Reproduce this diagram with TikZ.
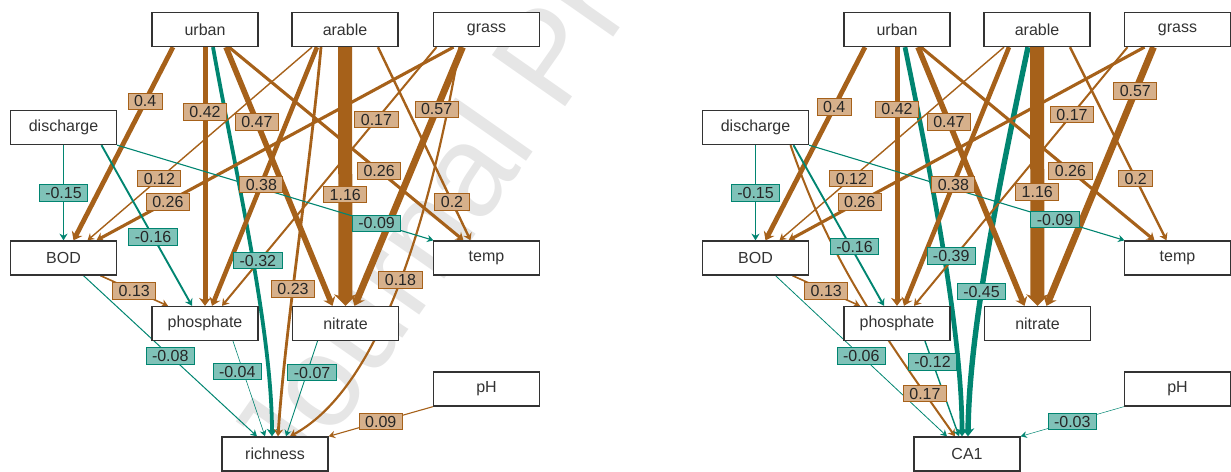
\documentclass[tikz,border=0pt]{standalone}
\usepackage{fontspec}
\setmainfont{Liberation Sans}
\usetikzlibrary{arrows.meta}
\definecolor{brn}{HTML}{A6611A}
\definecolor{tea}{HTML}{018571}
\definecolor{brnl}{HTML}{D6B08B}
\definecolor{teal2}{HTML}{7FC2B8}
\definecolor{wm}{HTML}{E6E6E6}
\pgfdeclarelayer{wmark}
\pgfdeclarelayer{edges}
\pgfsetlayers{wmark,edges,main}
\tikzset{
  box/.style={draw=black!80, line width=1.3pt, fill=white, minimum width=106pt,
    minimum height=34pt, inner sep=0pt, font=\fontsize{16}{18}\selectfont, text=black!80},
  tip/.style={-{Stealth[length=6pt 0.4, width=6pt 1.2]}},
  pe/.style={draw=brn, line width=#1, tip},
  ne/.style={draw=tea, line width=#1, tip},
  lab/.style={line width=0.9pt, inner xsep=6pt, inner ysep=2.5pt, text height=11.5pt,
    text depth=0pt, font=\fontsize{16}{18}\selectfont, text=black!85},
  pl/.style={lab, fill=brnl, draw=brn},
  nl/.style={lab, fill=teal2, draw=tea},
}
\begin{document}
\begin{tikzpicture}[x=1pt,y=-1pt]
\useasboundingbox (0,0) rectangle (1231,471);
\begin{pgfonlayer}{wmark}
\node[rotate=55, anchor=base west, text=wm, font=\fontsize{130}{130}\selectfont] (wmk) at (292,497) {Journal Pre-proof};
\end{pgfonlayer}
% ---------- left panel nodes ----------
\node[box] (urban) at (205,29.5) {urban};
\node[box] (arable) at (345,29.5) {arable};
\node[box] (grass) at (486.5,29.5) {grass};
\node[box] (discharge) at (63.5,127.5) {discharge};
\node[box] (BOD) at (63.5,258) {BOD};
\node[box] (temp) at (486.5,258) {temp};
\node[box] (phosphate) at (205,323.5) {phosphate};
\node[box] (nitrate) at (345.5,323.5) {nitrate};
\node[box] (pH) at (486.5,389) {pH};
\node[box] (richness) at (275,454) {richness};
% ---------- right panel nodes ----------
\node[box] (urban2) at (897,29.5) {urban};
\node[box] (arable2) at (1037,29.5) {arable};
\node[box] (grass2) at (1177.5,29.5) {grass};
\node[box] (discharge2) at (755.5,127.5) {discharge};
\node[box] (BOD2) at (755.5,258) {BOD};
\node[box] (temp2) at (1177.5,258) {temp};
\node[box] (phosphate2) at (897,323.5) {phosphate};
\node[box] (nitrate2) at (1037.5,323.5) {nitrate};
\node[box] (pH2) at (1177.5,389) {pH};
\node[box] (CA1) at (967,454) {CA1};
\begin{pgfonlayer}{edges}
% ---------- left panel edges ----------
\draw[pe=4.8pt] ([xshift=-32pt]urban.south) -- coordinate[pos=.28] (a1) ([xshift=10pt]BOD.north);
\draw[pe=5pt] (urban.south) -- coordinate[pos=.25] (a2) (phosphate.north);
\draw[ne=3.8pt] ([xshift=8pt]urban.south) .. controls (235,170) and (272,330) .. coordinate[pos=.53] (a3) ([xshift=-3pt]richness.north);
\draw[pe=5.6pt] ([xshift=21pt]urban.south) -- coordinate[pos=.29] (a4) ([xshift=-13pt]nitrate.north);
\draw[pe=3.1pt] ([xshift=24pt]urban.south) -- coordinate[pos=.64] (a5) ([xshift=-23pt]temp.north);
\draw[pe=1.4pt] ([xshift=-33pt]arable.south) -- coordinate[pos=.68] (a6) ([xshift=24pt]BOD.north);
\draw[pe=4.6pt] ([xshift=-28pt]arable.south) -- coordinate[pos=.53] (a7) ([xshift=7pt]phosphate.north);
\draw[pe=14pt] (arable.south) -- coordinate[pos=.57] (a8) (nitrate.north);
\draw[pe=2.4pt] ([xshift=33pt]arable.south) -- coordinate[pos=.8] (a9) ([xshift=-16pt]temp.north);
\draw[pe=2.8pt] ([xshift=-24pt]arable.south) .. controls (310,170) and (285,330) .. coordinate[pos=.6] (a10) ([xshift=3pt]richness.north);
\draw[pe=3.1pt] ([xshift=-33pt]grass.south) -- coordinate[pos=.8] (a11) ([xshift=33pt]BOD.north);
\draw[pe=2pt] ([xshift=-50pt]grass.south) -- coordinate[pos=.28] (a12) ([xshift=17pt]phosphate.north);
\draw[pe=6.8pt] ([xshift=-24pt]grass.south) -- coordinate[pos=.24] (a13) ([xshift=9pt]nitrate.north);
\draw[pe=2.2pt] ([xshift=-27pt]grass.south) .. controls (433,200) and (385,385) .. coordinate[pos=.5] (a14) ([xshift=15pt]richness.north);
\draw[ne=1.8pt] (discharge.south) -- coordinate[pos=.5] (a15) (BOD.north);
\draw[ne=1.9pt] ([xshift=38pt]discharge.south) -- coordinate[pos=.57] (a16) ([xshift=-13pt]phosphate.north);
\draw[ne=1.1pt] (discharge.south east) -- coordinate[pos=.82] (a17) ([xshift=-53pt]temp.north);
\draw[pe=1.6pt] ([xshift=37pt]BOD.south) -- coordinate[pos=.5] (a18) ([xshift=-37pt]phosphate.north);
\draw[ne=1pt] ([xshift=20pt]BOD.south) -- coordinate[pos=.5] (a19) ([xshift=-18pt]richness.north);
\draw[ne=0.6pt] ([xshift=28pt]phosphate.south) -- coordinate[pos=.32] (a20) ([xshift=-10pt]richness.north);
\draw[ne=0.9pt] ([xshift=-28pt]nitrate.south) -- coordinate[pos=.33] (a21) ([xshift=11pt]richness.north);
\draw[pe=1.1pt] (pH.south west) -- coordinate[pos=.5] (a22) (richness.north east);
% ---------- right panel edges ----------
\draw[pe=4.8pt] ([xshift=-32pt]urban2.south) -- coordinate[pos=.31] (b1) ([xshift=10pt]BOD2.north);
\draw[pe=5pt] (urban2.south) -- coordinate[pos=.24] (b2) (phosphate2.north);
\draw[ne=4.7pt] ([xshift=8pt]urban2.south) .. controls (930,170) and (962,330) .. coordinate[pos=.52] (b3) ([xshift=-5pt]CA1.north);
\draw[ne=5.4pt] ([xshift=-9pt]arable2.south) .. controls (1000,180) and (969,330) .. coordinate[pos=.6] (b4) ([xshift=1pt]CA1.north);
\draw[pe=5.6pt] ([xshift=21pt]urban2.south) -- coordinate[pos=.29] (b5) ([xshift=-13pt]nitrate2.north);
\draw[pe=3.1pt] ([xshift=24pt]urban2.south) -- coordinate[pos=.64] (b6) ([xshift=-23pt]temp2.north);
\draw[pe=1.4pt] ([xshift=-33pt]arable2.south) -- coordinate[pos=.68] (b7) ([xshift=24pt]BOD2.north);
\draw[pe=4.6pt] ([xshift=-28pt]arable2.south) -- coordinate[pos=.53] (b8) ([xshift=7pt]phosphate2.north);
\draw[pe=14pt] (arable2.south) -- coordinate[pos=.56] (b9) (nitrate2.north);
\draw[pe=2.4pt] ([xshift=33pt]arable2.south) -- coordinate[pos=.68] (b10) ([xshift=-11pt]temp2.north);
\draw[pe=3.1pt] ([xshift=-33pt]grass2.south) -- coordinate[pos=.8] (b11) ([xshift=33pt]BOD2.north);
\draw[pe=2pt] ([xshift=-50pt]grass2.south) -- coordinate[pos=.26] (b12) ([xshift=17pt]phosphate2.north);
\draw[pe=6.8pt] ([xshift=-24pt]grass2.south) -- coordinate[pos=.17] (b13) ([xshift=9pt]nitrate2.north);
\draw[ne=1.8pt] (discharge2.south) -- coordinate[pos=.5] (b14) (BOD2.north);
\draw[ne=1.9pt] ([xshift=38pt]discharge2.south) -- coordinate[pos=.63] (b15) ([xshift=-13pt]phosphate2.north);
\draw[ne=1.1pt] (discharge2.south east) -- coordinate[pos=.78] (b16) ([xshift=-53pt]temp2.north);
\draw[pe=2pt] ([xshift=35pt]discharge2.south) .. controls (830,260) and (880,330) .. coordinate[pos=.86] (b17) ([xshift=-12pt]CA1.north);
\draw[pe=1.6pt] ([xshift=37pt]BOD2.south) -- coordinate[pos=.5] (b18) ([xshift=-37pt]phosphate2.north);
\draw[ne=0.8pt] ([xshift=20pt]BOD2.south) -- coordinate[pos=.5] (b19) ([xshift=-20pt]CA1.north);
\draw[ne=1.4pt] ([xshift=28pt]phosphate2.south) -- coordinate[pos=.22] (b20) ([xshift=-8pt]CA1.north);
\draw[ne=0.5pt] (pH2.south west) -- coordinate[pos=.5] (b21) (CA1.north east);
\end{pgfonlayer}
% ---------- left labels ----------
\node[pl] at (a1) {0.4};
\node[pl] at (a2) {0.42};
\node[nl, xshift=5pt] at (a3) {-0.32};
\node[pl] at (a4) {0.47};
\node[pl] at (a5) {0.26};
\node[pl] at (a6) {0.12};
\node[pl] at (a7) {0.38};
\node[pl] at (a8) {1.16};
\node[pl] at (a9) {0.2};
\node[pl] at (a10) {0.23};
\node[pl] at (a11) {0.26};
\node[pl] at (a12) {0.17};
\node[pl] at (a13) {0.57};
\node[pl] at (a14) {0.18};
\node[nl] at (a15) {-0.15};
\node[nl] at (a16) {-0.16};
\node[nl] at (a17) {-0.09};
\node[pl] at (a18) {0.13};
\node[nl] at (a19) {-0.08};
\node[nl, xshift=-6pt] at (a20) {-0.04};
\node[nl, xshift=5pt] at (a21) {-0.07};
\node[pl] at (a22) {0.09};
% ---------- right labels ----------
\node[pl] at (b1) {0.4};
\node[pl] at (b2) {0.42};
\node[nl, xshift=7pt] at (b3) {-0.39};
\node[nl] at (b4) {-0.45};
\node[pl] at (b5) {0.47};
\node[pl] at (b6) {0.26};
\node[pl] at (b7) {0.12};
\node[pl] at (b8) {0.38};
\node[pl] at (b9) {1.16};
\node[pl] at (b10) {0.2};
\node[pl] at (b11) {0.26};
\node[pl] at (b12) {0.17};
\node[pl] at (b13) {0.57};
\node[nl] at (b14) {-0.15};
\node[nl, xshift=4pt] at (b15) {-0.16};
\node[nl] at (b16) {-0.09};
\node[pl] at (b17) {0.17};
\node[pl] at (b18) {0.13};
\node[nl] at (b19) {-0.06};
\node[nl] at (b20) {-0.12};
\node[nl] at (b21) {-0.03};
\end{tikzpicture}
\end{document}
